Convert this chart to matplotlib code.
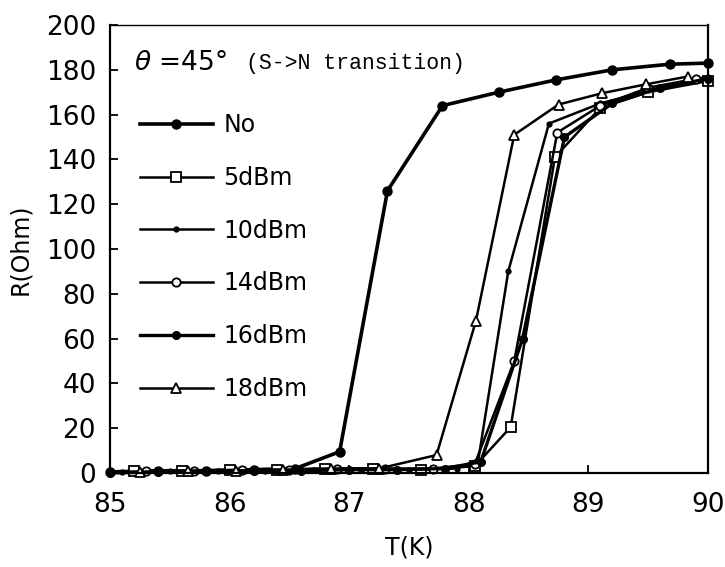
import matplotlib
matplotlib.use("Agg")
import matplotlib.pyplot as plt

plt.rcParams['font.family'] = ['DejaVu Sans']

T_no = [85.0, 85.4, 85.8, 86.2, 86.55, 86.92, 87.32, 87.78, 88.25, 88.73, 89.2, 89.68, 90.0]
R_no = [0.5, 1.0, 1.0, 1.5, 2.0, 9.5, 126, 164, 170, 175.5, 180, 182.5, 183]

T_5 = [85.2, 85.6, 86.0, 86.4, 86.8, 87.2, 87.6, 88.05, 88.35, 88.72, 89.1, 89.5, 90.0]
R_5 = [1.0, 1.0, 1.5, 1.5, 2.0, 2.0, 1.5, 3.0, 20.5, 141, 163, 170, 175]

T_10 = [85.1, 85.5, 85.9, 86.3, 86.7, 87.1, 87.5, 87.9, 88.08, 88.33, 88.67, 89.1, 89.6, 90.0]
R_10 = [0.5, 1.0, 1.0, 1.0, 1.5, 1.5, 1.5, 2.0, 6.0, 90, 156, 165, 172, 177]

T_14 = [85.3, 85.7, 86.1, 86.5, 86.9, 87.3, 87.7, 88.05, 88.38, 88.74, 89.1, 89.5, 89.9]
R_14 = [1.0, 1.0, 1.5, 1.5, 2.0, 2.0, 2.0, 4.0, 50, 152, 164, 172, 176]

T_16 = [85.0, 85.4, 85.8, 86.2, 86.6, 87.0, 87.4, 87.8, 88.1, 88.45, 88.8, 89.2, 89.6, 90.0]
R_16 = [0.0, 0.5, 1.0, 1.0, 1.0, 1.5, 1.5, 2.0, 5.0, 60, 150, 165, 172, 176]

T_18 = [85.25, 85.65, 86.05, 86.45, 86.85, 87.25, 87.73, 88.06, 88.38, 88.75, 89.11, 89.48, 89.83]
R_18 = [0.5, 1.0, 1.0, 1.5, 2.0, 2.0, 8.0, 68, 151, 164.5, 169.5, 173.5, 177]

labels = ['No', '5dBm', '10dBm', '14dBm', '16dBm', '18dBm']
x_ticks = [85, 86, 87, 88, 89, 90]
y_ticks = [0, 20, 40, 60, 80, 100, 120, 140, 160, 180, 200]

fig = plt.figure(figsize=(7.25, 5.67), dpi=100)
ax = fig.add_axes([110/725, 1-473/567, (708-110)/725, (473-25)/567])

k = dict(color='black', clip_on=False)
ax.plot(T_no, R_no, lw=2.6, marker='o', ms=6.5, mfc='black', mec='black', label=labels[0], **k)
ax.plot(T_5, R_5, lw=1.8, marker='s', ms=7, mfc='white', mec='black', mew=1.3, label=labels[1], **k)
ax.plot(T_10, R_10, lw=1.8, marker='o', ms=3.5, mfc='black', mec='black', label=labels[2], **k)
ax.plot(T_14, R_14, lw=1.8, marker='o', ms=6, mfc='white', mec='black', mew=1.3, label=labels[3], **k)
ax.plot(T_16, R_16, lw=2.4, marker='o', ms=5.5, mfc='black', mec='black', label=labels[4], **k)
ax.plot(T_18, R_18, lw=1.8, marker='^', ms=7, mfc='white', mec='black', mew=1.3, label=labels[5], **k)

ax.set_xlim(85, 90)
ax.set_ylim(0, 200)
ax.set_xticks(x_ticks)
ax.set_yticks(y_ticks)
ax.set_xticklabels([str(v) for v in x_ticks])
ax.set_yticklabels([str(v) for v in y_ticks])
ax.tick_params(direction='in', length=6, width=1.3, labelsize=19)
ax.tick_params(axis='x', pad=14)
ax.tick_params(axis='y', pad=10)
for s in ax.spines.values():
    s.set_linewidth(1.6)
ax.spines['top'].set_linewidth(1.0)

ax.set_xlabel('T(K)', fontsize=17, labelpad=12)
ax.set_ylabel('R(Ohm)', fontsize=17, labelpad=10)

ax.text(0.04, 0.915, r'$\theta$' + ' =45°', transform=ax.transAxes, fontsize=19, va='center')
ax.text(0.228, 0.915, '(S->N transition)', transform=ax.transAxes, fontsize=15.5,
        family=['Liberation Mono', 'DejaVu Sans Mono'], va='center')

ax.legend(loc='upper left', bbox_to_anchor=(0.03, 0.83), frameon=False, fontsize=17,
          handlelength=3.1, labelspacing=1.22, handletextpad=0.45, borderpad=0.0)

fig.savefig('out.png', dpi=100)
